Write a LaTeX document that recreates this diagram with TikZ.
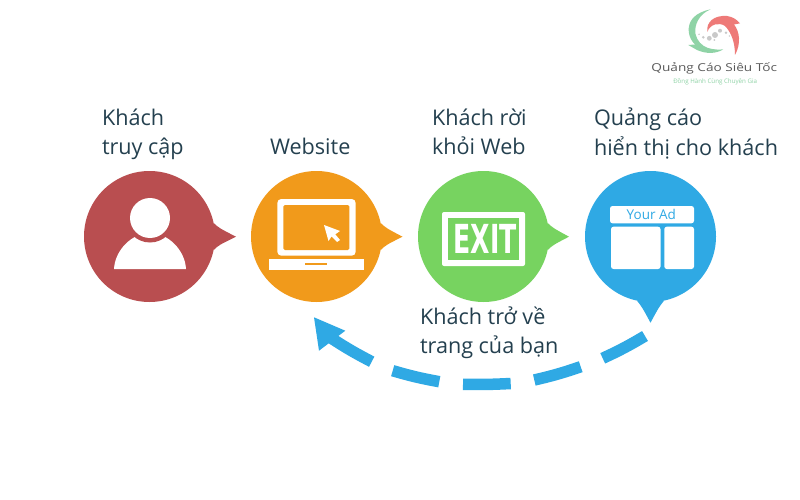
\documentclass[tikz,border=0pt]{standalone}
\usepackage{fontspec}
\setmainfont{Open Sans}
\newfontfamily\exitfont{DejaVu Sans}
\definecolor{cred}{HTML}{B94E50}
\definecolor{corange}{HTML}{F19A1B}
\definecolor{cgreen}{HTML}{77D360}
\definecolor{cblue}{HTML}{2FA9E4}
\definecolor{ink}{HTML}{24404F}
\definecolor{lgreen}{HTML}{8FD3A6}
\definecolor{lred}{HTML}{EE7A78}
\definecolor{lgrey}{HTML}{C9C9C9}
\tikzset{
  bubble/.style={circle,minimum size=131pt,inner sep=0pt,outer sep=0pt},
  label/.style={anchor=base west,text=ink,font=\fontsize{21.6}{27}\selectfont,inner sep=0pt,outer sep=0pt},
  dashseg/.style={draw=cblue,line width=11.5pt},
  white box/.style={fill=white,rounded corners=2.5pt},
  logotxt/.style={inner sep=0pt,outer sep=0pt}
}
\begin{document}
\begin{tikzpicture}[x=1pt,y=-1pt]
\useasboundingbox (0,0) rectangle (800,500);
\fill[white] (0,0) rectangle (800,500);
% bubbles
\node[bubble,fill=cred] (visitor) at (149.5,236.5) {};
\node[bubble,fill=corange] (site) at (316.5,236.5) {};
\node[bubble,fill=cgreen] (exit) at (483.5,236.5) {};
\node[bubble,fill=cblue] (ad) at (650.5,236.5) {};
\coordinate (t1) at (236,236.7);
\coordinate (t2) at (402.5,236.7);
\coordinate (t3) at (569,236.7);
\coordinate (t4) at (650.5,322.7);
\fill[cred] (visitor.12) .. controls (219,228) .. (t1) .. controls (219,245) .. (visitor.-12) -- cycle;
\fill[corange] (site.12) .. controls (386,228) .. (t2) .. controls (386,245) .. (site.-12) -- cycle;
\fill[cgreen] (exit.12) .. controls (553,228) .. (t3) .. controls (553,245) .. (exit.-12) -- cycle;
\fill[cblue] (ad.-102) .. controls (642,307) .. (t4) .. controls (659,307) .. (ad.-78) -- cycle;
% person
\fill[white] (114,269) .. controls (115,250) and (132,233) .. (150,233) .. controls (168,233) and (185,250) .. (186,269) -- cycle;
\fill[cred] (150,218) circle (24.5);
\fill[white] (150,218) circle (20);
% laptop
\fill[white,rounded corners=4pt] (277.3,199) rectangle (355.7,255.7);
\fill[corange,rounded corners=1.5pt] (283.3,205) rectangle (349.3,250);
\fill[white] (269,259) rectangle (364,270);
\fill[corange] (305.3,263) rectangle (327.3,265.3);
\fill[white] (324,225) -- (340,231) -- (335.3,234.3) -- (340,240) -- (337,242) -- (331.5,236.5) -- (328.5,241) -- cycle;
% exit sign
\fill[white,rounded corners=2pt] (442,212) rectangle (525,266);
\fill[cgreen] (448,218.3) rectangle (519.3,260);
\node[logotxt,text=white] (exitword) at (485.3,238.5) {\scalebox{0.63}[1.0]{\exitfont\bfseries\fontsize{40}{40}\selectfont EXIT}};
% ad panels
\fill[white box] (610,206) rectangle (694,223.3);
\fill[white box] (611,226.7) rectangle (660.5,269);
\fill[white box] (664.3,226.7) rectangle (694,269);
\node[logotxt,text=cblue,font=\fontsize{13.5}{16}\selectfont] (adword) at (651.3,214.7) {Your Ad};
% labels
\node[label] (l1a) at (102,125) {Khách};
\node[label] (l1b) at (102,154) {truy cập};
\node[label] (l2) at (270,154) {Website};
\node[label] (l3a) at (432,125) {Khách rời};
\node[label] (l3b) at (432,154) {khỏi Web};
\node[label] (l4a) at (594,126) {Quảng cáo};
\node[label] (l4b) at (594,155) {hiển thị cho khách};
\node[label] (l5a) at (420,324) {Khách trở về};
\node[label] (l5b) at (420,353) {trang của bạn};
% dashed return arrow
\coordinate (a0) at (645,336);
\coordinate (a1) at (602.7,358.3);
\coordinate (a2) at (580.7,366.7);
\coordinate (a3) at (534.3,380);
\coordinate (a4) at (510.7,383.5);
\coordinate (a5) at (463,384.3);
\coordinate (a6) at (439.3,381.7);
\coordinate (a7) at (392.7,370.7);
\coordinate (a8) at (371.7,361.7);
\coordinate (a9) at (328,336);
\coordinate (tipA) at (314,317.3);
\coordinate (tipB) at (345.3,330.7);
\coordinate (tipC) at (319,350.7);
\draw[dashseg] (a0) to[bend left=3] (a1);
\draw[dashseg] (a2) to[bend left=3] (a3);
\draw[dashseg] (a4) to[bend left=2] (a5);
\draw[dashseg] (a6) to[bend left=3] (a7);
\draw[dashseg] (a8) to[bend left=3] (a9);
\fill[cblue] (tipA) -- (tipB) -- (tipC) -- cycle;
% logo
\fill[lgreen] (710.7,9.3) .. controls (699,14) and (694,25) .. (695.5,34)
  .. controls (697,41) and (702,46) .. (708,48) .. controls (713,49.5) and (719,50) .. (723.3,49.3)
  .. controls (716,54) and (706,54) .. (697,50) -- (688.3,45) -- (695,44.5)
  .. controls (688,38) and (686,26) .. (693,18) .. controls (697,13.5) and (704,10.5) .. (710.7,9.3) -- cycle;
\fill[lred] (707.3,32) .. controls (706,22) and (714,15) .. (727,16) .. controls (733,17) and (736,19) .. (740,23.3)
  -- (734,24.5) .. controls (740,32) and (741,44) .. (735,55)
  .. controls (735,42) and (731,32) .. (725,26) .. controls (719,22) and (710,24) .. (707.3,32) -- cycle;
\foreach \px/\py/\pr in {715/35/3,720/30.7/2,709.3/38.3/2.4,703.3/37.3/1.4,726/32.7/1.4,699/34.3/.8,729.3/36/.8,714.3/40/1}
  \fill[lgrey] (\px,\py) circle (\pr);
\node[logotxt,text=black!65] (logoname) at (714.3,68) {\scalebox{1.25}[1]{\fontsize{10.9}{12}\selectfont Quảng Cáo Siêu Tốc}};
\node[logotxt,text=lgreen,font=\fontsize{6.2}{8}\selectfont] (logotag) at (715.2,81.7) {Đồng Hành Cùng Chuyên Gia};
\end{tikzpicture}
\end{document}
